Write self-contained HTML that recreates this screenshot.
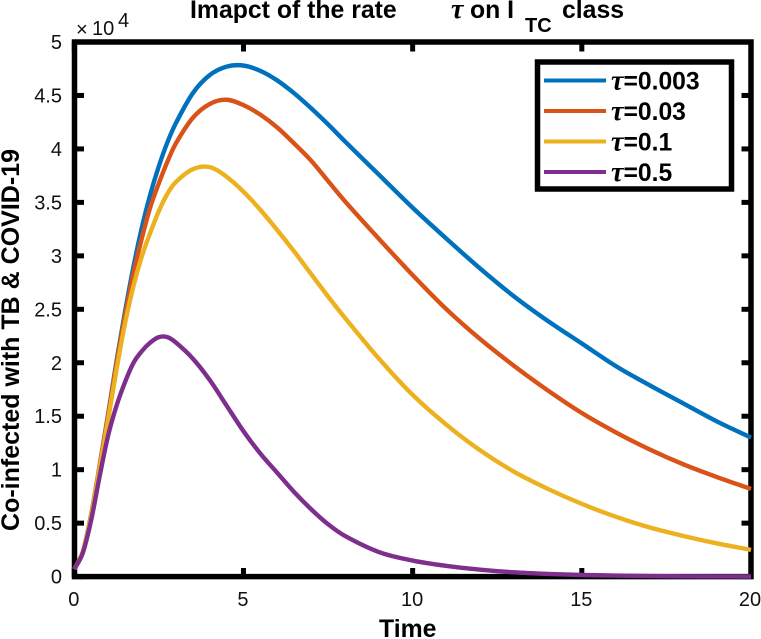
<!DOCTYPE html>
<html lang="en">
<head>
<meta charset="utf-8">
<title>Impact of the rate tau on I_TC class</title>
<style>
html,body{margin:0;padding:0;background:#fff;width:761px;height:639px;overflow:hidden}
svg{display:block;font-family:"Liberation Sans",Arial,sans-serif}
.tk{font-size:20px;fill:#111}
.bd{font-weight:bold;fill:#000}
.tau{font-family:"Liberation Serif",serif;font-style:italic;font-weight:bold}
</style>
</head>
<body>
<svg id="chart" width="761" height="639" viewBox="0 0 761 639" xmlns="http://www.w3.org/2000/svg">
  <rect x="0" y="0" width="761" height="639" fill="#fff"></rect>
  <text x="190" y="18" class="bd" font-size="24.8">Imapct of the rate</text>
  <text x="451" y="18" class="bd tau" font-size="28">τ</text>
  <text x="470" y="18" class="bd" font-size="24.8">on I</text>
  <text x="525" y="32" class="bd" font-size="20">TC</text>
  <text x="562" y="18" class="bd" font-size="24.8">class</text>
  <rect x="74.5" y="42" width="676.5" height="534.6" fill="none" stroke="#000" stroke-width="5.5"></rect>
  <g id="tick-layer"></g>
  <g id="series-layer"></g>
  <text x="76" y="36" class="tk" font-size="20">×</text>
  <text x="92" y="35" class="tk" font-size="20">10</text>
  <text x="118" y="27" class="tk" font-size="17">4</text>
  <text x="379" y="637" class="bd" font-size="24.8">Time</text>
  <text transform="translate(19,340) rotate(-90)" class="bd" font-size="25" text-anchor="middle">Co-infected with TB &amp; COVID-19</text>
  <g id="legend-layer"></g>
</svg>
<script>
var times = [0,0.25,0.5,0.75,1,1.25,1.5,1.75,2,2.25,2.5,2.75,3,3.5,4,4.5,5,5.5,6,6.5,7,7.5,8,9,10,11,12,13,14,15,16,17,18,19,20];
var seriesA = [0.07,0.23,0.58,1.04,1.52,2.02,2.48,2.9,3.27,3.58,3.84,4.06,4.24,4.52,4.69,4.77,4.78,4.73,4.64,4.52,4.38,4.23,4.07,3.76,3.45,3.16,2.88,2.62,2.39,2.18,1.97,1.79,1.62,1.45,1.30];
var seriesB = [0.07,0.23,0.58,1.04,1.51,2.0,2.44,2.84,3.17,3.46,3.68,3.88,4.05,4.29,4.42,4.46,4.41,4.32,4.2,4.05,3.89,3.7,3.51,3.16,2.82,2.5,2.22,1.97,1.74,1.53,1.35,1.19,1.05,0.93,0.82];
var seriesC = [0.07,0.23,0.57,1.02,1.47,1.94,2.37,2.72,3.0,3.22,3.42,3.58,3.69,3.81,3.83,3.74,3.6,3.43,3.24,3.04,2.83,2.62,2.42,2.04,1.7,1.42,1.18,0.98,0.82,0.68,0.56,0.46,0.38,0.31,0.25];
var seriesD = [0.07,0.22,0.53,0.94,1.32,1.6,1.82,2.0,2.11,2.19,2.24,2.24,2.19,2.04,1.84,1.6,1.36,1.15,0.97,0.79,0.63,0.49,0.38,0.23,0.15,0.1,0.065,0.04,0.025,0.015,0.01,0.005,0.003,0.002,0.001];
var seriesLabels = ["=0.003","=0.03","=0.1","=0.5"];
var seriesColors = ["#0072BD","#D95319","#EDB120","#7E2F8E"];
var xTicks = ["0","5","10","15","20"];
var yTicks = ["0","0.5","1","1.5","2","2.5","3","3.5","4","4.5","5"];
var NS = "http://www.w3.org/2000/svg";
function xScale(v){ return 74.3 + v * (751 - 74.3) / 20; }
function yScale(v){ return 576.6 - v * (576.6 - 42) / 5; }
function make(tag, attrs, parent){
  var el = document.createElementNS(NS, tag);
  for (var k in attrs) el.setAttribute(k, attrs[k]);
  parent.appendChild(el);
  return el;
}
function smoothPath(pts){
  var d = "M" + pts[0][0].toFixed(2) + " " + pts[0][1].toFixed(2);
  for (var i = 0; i < pts.length - 1; i++){
    var p0 = pts[Math.max(i - 1, 0)], p1 = pts[i], p2 = pts[i + 1], p3 = pts[Math.min(i + 2, pts.length - 1)];
    var h = p2[0] - p1[0];
    var m1 = (p2[1] - p0[1]) / ((p2[0] - p0[0]) || 1), m2 = (p3[1] - p1[1]) / ((p3[0] - p1[0]) || 1);
    d += "C" + (p1[0] + h / 3).toFixed(2) + " " + (p1[1] + m1 * h / 3).toFixed(2) + " " + (p2[0] - h / 3).toFixed(2) + " " + (p2[1] - m2 * h / 3).toFixed(2) + " " + p2[0].toFixed(2) + " " + p2[1].toFixed(2);
  }
  return d;
}
var seriesLayer = document.getElementById("series-layer");
var allSeries = [seriesA, seriesB, seriesC, seriesD];
allSeries.forEach(function(vals, s){
  var pts = vals.map(function(v, i){ return [xScale(times[i]), yScale(v)]; });
  var line = make("path", {d: smoothPath(pts), fill: "none", stroke: seriesColors[s], "stroke-width": 4.4, "stroke-linejoin": "round"}, seriesLayer);
  
  
});
var tickLayer = document.getElementById("tick-layer");
xTicks.forEach(function(lbl){
  var x = xScale(parseFloat(lbl));
  var bottomTick = make("line", {x1: x, x2: x, y1: 577, y2: 568, stroke: "#000", "stroke-width": 5}, tickLayer);
  
  
  var topTick = make("line", {x1: x, x2: x, y1: 42, y2: 51.5, stroke: "#000", "stroke-width": 5}, tickLayer);
  
  
  var xt = make("text", {x: lbl === "20" ? x - 1 : x - 0.5, y: 606, "class": "tk", "text-anchor": "middle"}, tickLayer);
  xt.textContent = lbl;
  
  
});
yTicks.forEach(function(lbl){
  var y = yScale(parseFloat(lbl));
  var leftTick = make("line", {x1: 74, x2: 84, y1: y, y2: y, stroke: "#000", "stroke-width": 5}, tickLayer);
  
  
  var rightTick = make("line", {x1: 751, x2: 741.5, y1: y, y2: y, stroke: "#000", "stroke-width": 5}, tickLayer);
  
  
  var yt = make("text", {x: 62, y: y + 7, "class": "tk", "text-anchor": "end"}, tickLayer);
  yt.textContent = lbl;
  
  
});
var legendLayer = document.getElementById("legend-layer");
var legendBox = make("rect", {x: 537.5, y: 62, width: 194, height: 127, fill: "#fff", stroke: "#000", "stroke-width": 5.5}, legendLayer);


seriesLabels.forEach(function(lbl, i){
  var y = 80.5 + i * 30.5;
  var swatch = make("line", {x1: 544, x2: 606, y1: y, y2: y, stroke: seriesColors[i], "stroke-width": 4}, legendLayer);
  
  
  var t = make("text", {x: 611, y: y + 9, "class": "bd", "font-size": 24.7}, legendLayer);
  
  
  var tauSpan = make("tspan", {"class": "tau", "font-size": 28}, t);
  tauSpan.textContent = "τ";
  var valueSpan = make("tspan", {}, t);
  valueSpan.textContent = lbl;
});
</script>
</body>
</html>
